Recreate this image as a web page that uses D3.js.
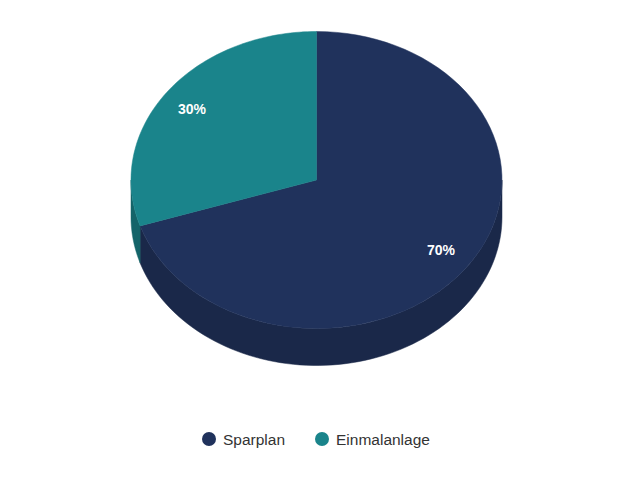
<!DOCTYPE html>
<html lang="de">
<head>
<meta charset="utf-8">
<title>Sparplan vs Einmalanlage</title>
<script src="https://cdn.jsdelivr.net/npm/d3@7"></script>
<style>
  body { margin: 0; background: #fff; }
  svg { font-family: "Liberation Sans", Arial, sans-serif; }
</style>
</head>
<body>
<script>
// data
var categories = ["Sparplan", "Einmalanlage"];
var values = [70, 30];
var labels = ["70%", "30%"];

var w = 640, h = 480;
var cx = 316.5, cy = 180, rx = 185.5, ry = 148.5, depth = 37;

var topColor = d3.scaleOrdinal().domain(categories).range(["#20325c", "#1a848b"]);
var sideColor = d3.scaleOrdinal().domain(categories).range(["#1a2849", "#146469"]);

var svg = d3.select("body").append("svg")
  .attr("width", w).attr("height", h);

var pie = d3.pie().sort(null).value(function(d) { return d.value; });
var arcs = pie(categories.map(function(c, i) { return { name: c, value: values[i], label: labels[i] }; }));

// angle measured clockwise from the top
function px(a, k) { return cx + rx * (k || 1) * Math.sin(a); }
function py(a, k) { return cy - ry * (k || 1) * Math.cos(a); }

function topPath(d) {
  var p = d3.path();
  p.moveTo(cx, cy);
  var n = 80;
  for (var i = 0; i <= n; i++) {
    var a = d.startAngle + (d.endAngle - d.startAngle) * i / n;
    p.lineTo(px(a), py(a));
  }
  p.closePath();
  return p.toString();
}

function sidePath(d) {
  var a0 = Math.max(d.startAngle, Math.PI / 2);
  var a1 = Math.min(d.endAngle, Math.PI * 1.5);
  if (a1 <= a0) return null;
  var p = d3.path();
  var n = 80, i, a;
  p.moveTo(px(a0), py(a0));
  for (i = 1; i <= n; i++) {
    a = a0 + (a1 - a0) * i / n;
    p.lineTo(px(a), py(a));
  }
  for (i = n; i >= 0; i--) {
    a = a0 + (a1 - a0) * i / n;
    p.lineTo(px(a), py(a) + depth);
  }
  p.closePath();
  return p.toString();
}

svg.append("g").selectAll("path")
  .data(arcs.filter(function(d) { return sidePath(d); }))
  .enter().append("path")
  .attr("d", sidePath)
  .attr("fill", function(d) { return sideColor(d.data.name); })
  .attr("stroke", function(d) { return sideColor(d.data.name); })
  .attr("stroke-width", 0.5);

svg.append("g").selectAll("path")
  .data(arcs)
  .enter().append("path")
  .attr("d", topPath)
  .attr("fill", function(d) { return topColor(d.data.name); })
  .attr("stroke", function(d) { return topColor(d.data.name); })
  .attr("stroke-width", 0.5);

// data labels
svg.append("g").selectAll("text")
  .data(arcs)
  .enter().append("text")
  .attr("x", function(d) { return px((d.startAngle + d.endAngle) / 2, 0.83); })
  .attr("y", function(d) { return py((d.startAngle + d.endAngle) / 2, 0.81) + 4.5; })
  .attr("text-anchor", "middle")
  .attr("fill", "#fff")
  .attr("font-size", "14px")
  .attr("font-weight", "bold")
  .text(function(d) { return d.data.label; });

// legend
var legendX = d3.scaleOrdinal().domain(categories).range([209, 322]);
var legend = svg.append("g").selectAll("g")
  .data(categories)
  .enter().append("g")
  .attr("transform", function(d) { return "translate(" + legendX(d) + ",439)"; });

legend.append("circle")
  .attr("r", 7)
  .attr("fill", function(d) { return topColor(d); });

legend.append("text")
  .attr("x", 14)
  .attr("y", 5.5)
  .attr("font-size", "15.5px")
  .attr("fill", "#333")
  .text(function(d) { return d; });
</script>
</body>
</html>
